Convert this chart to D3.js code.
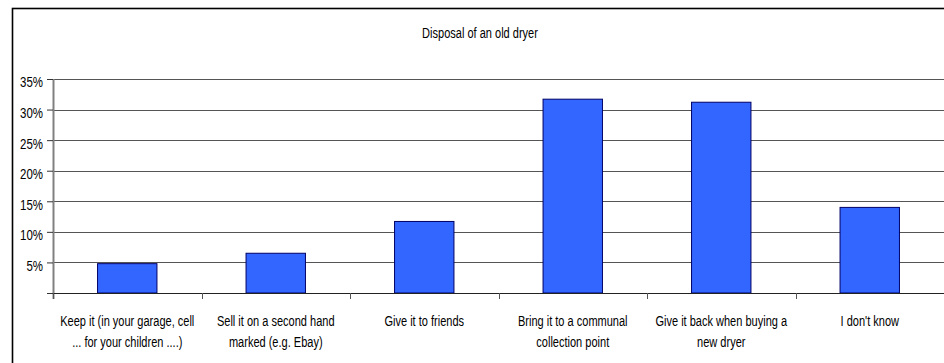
<!DOCTYPE html>
<html>
<head>
<meta charset="utf-8">
<script src="https://cdn.jsdelivr.net/npm/d3@7/dist/d3.min.js"></script>
<style>
  html, body { margin: 0; padding: 0; background: #fff; }
  svg { display: block; }
  text { font-family: "Liberation Sans", Arial, sans-serif; fill: #000; }
</style>
</head>
<body>
<svg id="chart" width="944" height="363"></svg>
<script>
const title = "Disposal of an old dryer";
const categories = [
  ["Keep it (in your garage, cell", "... for your children ....)"],
  ["Sell it on a second hand", "marked (e.g. Ebay)"],
  ["Give it to friends"],
  ["Bring it to a communal", "collection point"],
  ["Give it back when buying a", "new dryer"],
  ["I don't know"]
];
const values = [0.048, 0.065, 0.117, 0.317, 0.312, 0.140];
const yTicks = [0.05, 0.10, 0.15, 0.20, 0.25, 0.30, 0.35];

const SX = 0.735;   // narrow-font horizontal squeeze
const FS = 15;

const svg = d3.select("#chart");
const mLeft = 53, mRight = 944, mTop = 79, mBottom = 293;

// outer frame
svg.append("rect")
  .attr("x", 12.5).attr("y", 8.5)
  .attr("width", 960).attr("height", 400)
  .attr("fill", "none").attr("stroke", "#000").attr("stroke-width", 1.6);

svg.append("text")
  .attr("transform", `translate(480,37.5) scale(${SX},1)`)
  .attr("text-anchor", "middle")
  .attr("font-size", FS)
  .text(title);

const x = d3.scaleBand()
  .domain(d3.range(categories.length))
  .range([mLeft, mRight])
  .paddingInner(0.6)
  .paddingOuter(0.3);

const y = d3.scaleLinear().domain([0, 0.35]).range([mBottom, mTop]);

// gridlines
svg.append("g")
  .selectAll("line")
  .data(yTicks)
  .join("line")
  .attr("x1", mLeft).attr("x2", mRight)
  .attr("y1", d => Math.round(y(d)) + 0.5)
  .attr("y2", d => Math.round(y(d)) + 0.5)
  .attr("stroke", "#555").attr("stroke-width", 1.2);

// y axis
const yAxis = d3.axisLeft(y)
  .tickValues([0].concat(yTicks))
  .tickSize(6)
  .tickFormat(d => d === 0 ? "" : d3.format(".0%")(d));
const gy = svg.append("g").attr("transform", `translate(${mLeft},0)`).call(yAxis);
gy.attr("font-family", null).attr("font-size", null);
gy.select(".domain").attr("stroke", "#808080").attr("stroke-width", 2)
  .attr("d", `M0.5,${mTop}V${mBottom + 6}`);
gy.selectAll(".tick line").attr("stroke", "#333");
gy.selectAll(".tick text")
  .attr("x", 0)
  .attr("dy", "0.53em")
  .attr("transform", `translate(-10,0) scale(${SX + 0.03},1)`)
  .attr("font-size", FS)
  .attr("fill", "#000");

// bars
svg.append("g")
  .selectAll("rect")
  .data(values)
  .join("rect")
  .attr("x", (d, i) => x(i))
  .attr("y", d => y(d))
  .attr("width", x.bandwidth())
  .attr("height", d => mBottom - y(d))
  .attr("fill", "#3366FF")
  .attr("stroke", "#000066")
  .attr("stroke-width", 1);

// x axis line
svg.append("line")
  .attr("x1", mLeft).attr("x2", mRight)
  .attr("y1", mBottom + 0.5).attr("y2", mBottom + 0.5)
  .attr("stroke", "#222").attr("stroke-width", 1.2);

// category boundary ticks
const bounds = d3.range(categories.length + 1).map(i => mLeft + i * x.step());
svg.append("g")
  .selectAll("line")
  .data(bounds)
  .join("line")
  .attr("x1", d => Math.round(d) + 0.5).attr("x2", d => Math.round(d) + 0.5)
  .attr("y1", mBottom).attr("y2", mBottom + 6)
  .attr("stroke", "#555");

// category labels
const lab = svg.append("g")
  .selectAll("text")
  .data(categories)
  .join("text")
  .attr("text-anchor", "middle")
  .attr("font-size", FS)
  .attr("transform", (d, i) => `translate(${x(i) + x.bandwidth() / 2},325.5) scale(${SX},1)`);
lab.selectAll("tspan")
  .data(d => d)
  .join("tspan")
  .attr("x", 0)
  .attr("dy", (d, i) => i === 0 ? 0 : 21.8)
  .text(d => d);
</script>
</body>
</html>
